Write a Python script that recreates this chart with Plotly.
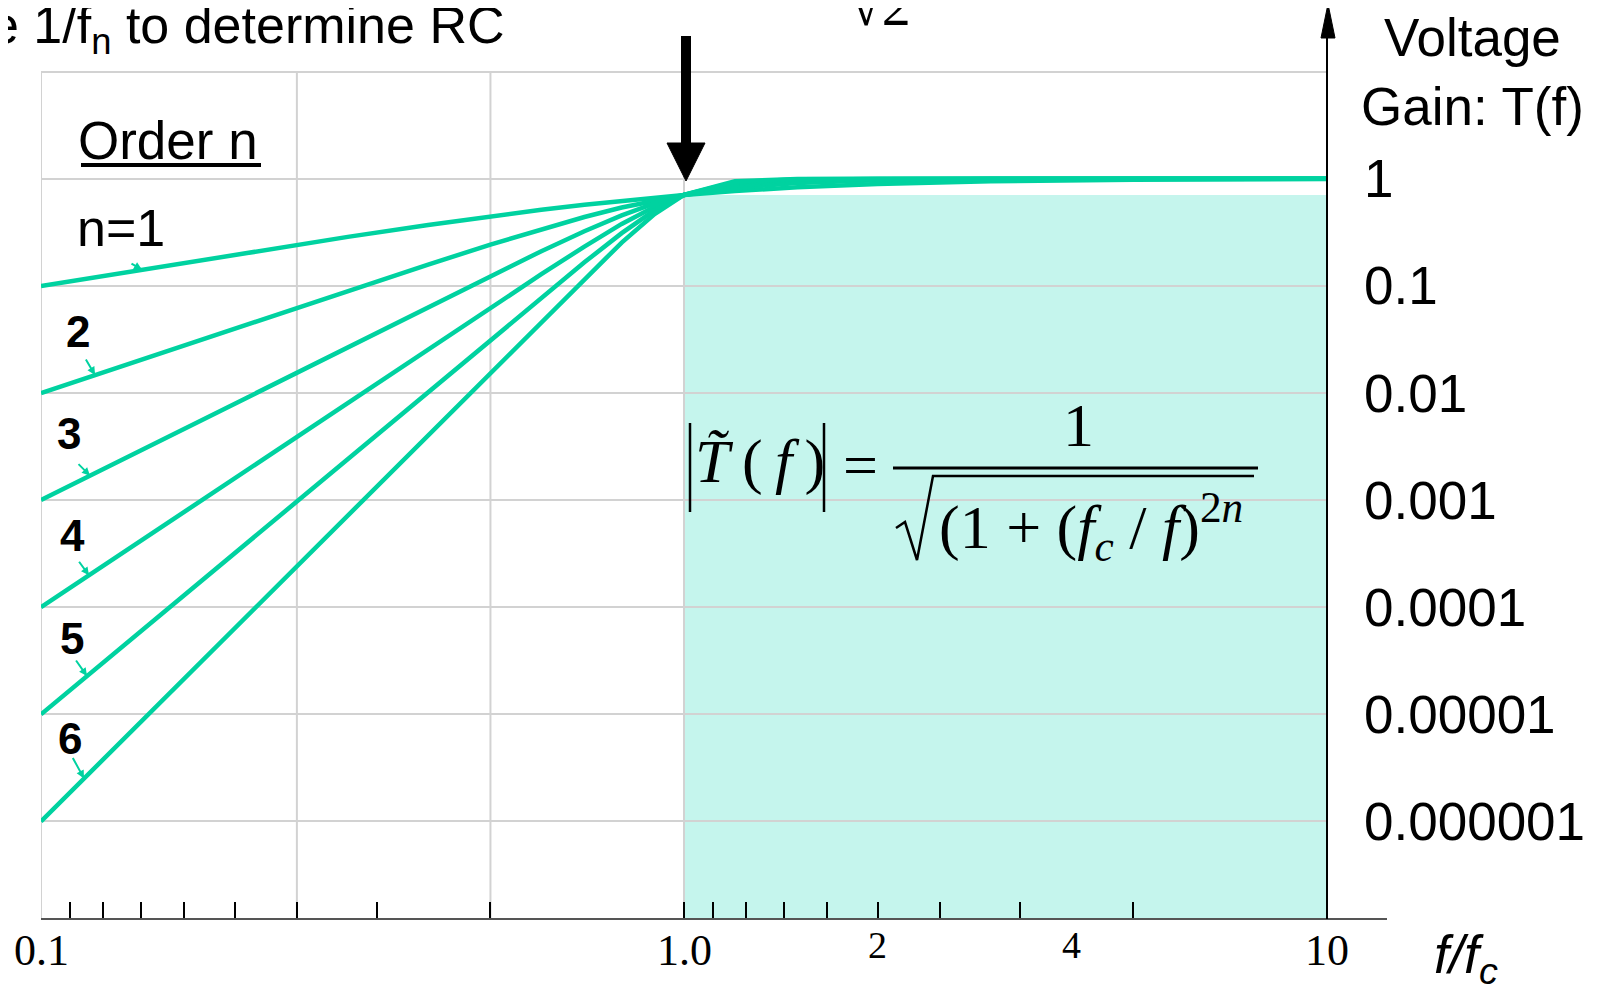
import numpy as np
import plotly.graph_objects as go

freq = [0.1, 0.2, 0.3, 0.4, 0.5, 0.6, 0.7, 0.8, 0.9, 1.0, 1.2, 1.5, 2.0, 3.0, 5.0, 10.0]

# voltage gain T(f) for each filter order n
gain_n1 = [0.0995, 0.196, 0.287, 0.371, 0.447, 0.514, 0.573, 0.625, 0.669, 0.707, 0.768, 0.832, 0.894, 0.949, 0.981, 0.995]
gain_n2 = [0.0100, 0.0400, 0.0896, 0.158, 0.243, 0.339, 0.440, 0.539, 0.629, 0.707, 0.821, 0.914, 0.970, 0.994, 0.999, 1.0]
gain_n3 = [0.0010, 0.0080, 0.0270, 0.0639, 0.124, 0.211, 0.324, 0.456, 0.589, 0.707, 0.866, 0.959, 0.992, 0.999, 1.0, 1.0]
gain_n4 = [0.0001, 0.0016, 0.0081, 0.0256, 0.0624, 0.1285, 0.233, 0.379, 0.549, 0.707, 0.901, 0.981, 0.998, 1.0, 1.0, 1.0]
gain_n5 = [0.00001, 0.00032, 0.00243, 0.01024, 0.0312, 0.0775, 0.166, 0.311, 0.508, 0.707, 0.928, 0.991, 0.9995, 1.0, 1.0, 1.0]
gain_n6 = [0.000001, 0.000064, 0.000729, 0.0041, 0.0156, 0.0466, 0.117, 0.254, 0.469, 0.707, 0.948, 0.996, 1.0, 1.0, 1.0, 1.0]
gains = [gain_n1, gain_n2, gain_n3, gain_n4, gain_n5, gain_n6]
order_labels = ['n=1', '2', '3', '4', '5', '6']

# axis ticks
gain_ticks = [1e-6, 1e-5, 1e-4, 1e-3, 1e-2, 0.1, 1, 10]
gain_ticktext = ['0.000001', '0.00001', '0.0001', '0.001', '0.01', '0.1', '1', '']
freq_ticks = [0.1, 0.1111, 0.125, 0.1429, 0.1667, 0.2, 0.25, 0.3333, 0.5,
              1.0, 1.111, 1.25, 1.429, 1.667, 2.0, 2.5, 3.333, 5.0, 10.0]
freq_grid = [0.1, 0.25, 0.5, 1.0]
freq_label_at = [0.1, 1.0, 2.0, 4.0, 10.0]
freq_labels = ['0.1', '1.0', '2', '4', '10']

# pass band (above cutoff, down to the half-power gain)
band_f = [1.0, 10.0]
band_gain = 0.707

TEAL = 'rgb(0,210,160)'
SHADE = 'rgb(197,245,237)'
GRID = 'rgb(210,210,210)'
SANS = 'Arial, Liberation Sans, sans-serif'
SERIF = 'Times New Roman, Liberation Serif, serif'

# plot area in page pixels; the page body adds an 8px margin
OFF = 8
W, H = 1602 - OFF, 992 - OFF
L, R, T, B = 41, 1327, 10, 919
def px(x):
    return (x - L) / (R - L)
def py(y):
    return (B - y) / (B - T)

fig = go.Figure()
for g in gains:
    fig.add_trace(go.Scatter(x=freq, y=g, mode='lines',
                             line=dict(color=TEAL, width=4.5), hoverinfo='skip'))

shapes = []
shapes.append(dict(type='rect', xref='x', yref='y', x0=band_f[0], x1=band_f[1],
                   y0=1e-7, y1=band_gain, layer='below', line=dict(width=0), fillcolor=SHADE))
for xg in freq_grid:
    shapes.append(dict(type='line', xref='x', yref='y', x0=xg, x1=xg, y0=1e-7, y1=10,
                       layer='below', line=dict(color=GRID, width=2)))

# axes lines
shapes.append(dict(type='line', xref='paper', yref='paper', x0=0, x1=px(1387), y0=0, y1=0,
                   line=dict(color='#555', width=2)))
shapes.append(dict(type='line', xref='paper', yref='paper', x0=1, x1=1, y0=0, y1=py(30),
                   line=dict(color='black', width=2)))
shapes.append(dict(type='path', xref='paper', yref='paper',
                   path=f'M {px(1321)},{py(38)} L {px(1335)},{py(38)} L {px(1328)},{py(4)} Z',
                   fillcolor='black', line=dict(color='black', width=1)))

# big arrow at cutoff
shapes.append(dict(type='line', xref='paper', yref='paper', x0=px(686), x1=px(686),
                   y0=py(36), y1=py(146), line=dict(color='black', width=10)))
shapes.append(dict(type='path', xref='paper', yref='paper',
                   path=f'M {px(667)},{py(143)} L {px(705)},{py(143)} L {px(686)},{py(181)} Z',
                   fillcolor='black', line=dict(color='black', width=1)))

# underline of "Order n"
shapes.append(dict(type='line', xref='paper', yref='paper', x0=px(81), x1=px(261),
                   y0=py(165), y1=py(165), line=dict(color='black', width=4)))

# formula strokes
for xb in [690, 824]:
    shapes.append(dict(type='line', xref='paper', yref='paper', x0=px(xb), x1=px(xb),
                       y0=py(423), y1=py(512), line=dict(color='black', width=2.5)))
shapes.append(dict(type='line', xref='paper', yref='paper', x0=px(893), x1=px(1258),
                   y0=py(468), y1=py(468), line=dict(color='black', width=3)))
rad = [(896, 528), (905, 522), (917, 560), (933, 476), (1254, 476)]
shapes.append(dict(type='path', xref='paper', yref='paper',
                   path='M ' + ' L '.join(f'{px(a)},{py(b)}' for a, b in rad),
                   line=dict(color='black', width=2.5)))

ann = []
def text(x, y, s, size, family=SANS, xanchor='center', yanchor='middle', color='black'):
    ann.append(dict(xref='paper', yref='paper', x=px(x), y=py(y), text=s, showarrow=False,
                    xanchor=xanchor, yanchor=yanchor,
                    font=dict(size=size, family=family, color=color)))

text(506, 29, 'e 1/f<sub>n</sub> to determine RC', 52, xanchor='right')
text(848, 40, '\u221a2', 58, family=SERIF, xanchor='left', yanchor='bottom')
text(1472, 72, 'Voltage<br>Gain: T(f)', 53)
text(168, 140, 'Order n', 53)
text(1466, 958, '<i>f/f<sub>c</sub></i>', 54)

# order labels
label_pos = [(121, 228), (78, 331), (69, 433), (72, 535), (72, 638), (70, 738)]
for lab, (x, y) in zip(order_labels, label_pos):
    if lab.startswith('n'):
        text(x, y, lab, 52)
    else:
        text(x, y, '<b>' + lab + '</b>', 44)

# small pointers from the labels onto each curve
tips = [(142, -12, -7), (95, -10, -17), (90, -13, -13), (89, -11, -15), (87, -12, -17), (84, -12, -22)]
lf = np.log10(freq)
for g, (tx, ax, ay) in zip(gains, tips):
    xl = -1 + (tx - L) / (R - L) * 2
    yl = np.interp(xl, lf, np.log10(g))
    ann.append(dict(xref='x', yref='y', x=xl, y=yl, ax=ax, ay=ay, text='', showarrow=True,
                    arrowhead=2, arrowsize=0.8, arrowwidth=2, arrowcolor=TEAL))

# bottom frequency labels
for f, s in zip(freq_label_at, freq_labels):
    yy = 945 if s in ('2', '4') else 951
    sz = 38 if s in ('2', '4') else 44
    ann.append(dict(xref='x', yref='paper', x=np.log10(f), y=py(yy), text=s, showarrow=False,
                    xanchor='center', yanchor='middle',
                    font=dict(size=sz, family=SERIF, color='black')))

# formula text
text(760, 462, '<i>T\u0303</i>\u2009(\u2009<i>f</i>\u2009)', 62, family=SERIF)
text(860, 465, '=', 62, family=SERIF)
text(1078, 425, '1', 62, family=SERIF)
text(1091, 526, '(1 + (<i>f</i><sub><i>c</i></sub> / <i>f</i>)<sup>2<i>n</i></sup>', 62, family=SERIF)

fig.update_layout(
    width=W, height=H, autosize=False,
    margin=dict(l=L - OFF, r=W - (R - OFF), t=T - OFF, b=H - (B - OFF), pad=0),
    paper_bgcolor='white', plot_bgcolor='white',
    showlegend=False,
    shapes=shapes, annotations=ann,
    xaxis=dict(type='log', range=[-1, 1], tickvals=freq_ticks, ticks='inside', ticklen=17,
               tickwidth=2, tickcolor='black', showticklabels=False, showgrid=False,
               zeroline=False, showline=False),
    yaxis=dict(type='log', range=[-6.911, 1.576], side='right', tickvals=gain_ticks,
               ticktext=gain_ticktext, ticks='', showgrid=True, gridcolor=GRID, gridwidth=2,
               showline=False, zeroline=False, automargin=False, ticklabelstandoff=36,
               tickfont=dict(size=53, family=SANS, color='black')),
)

fig.write_html('out.html')
